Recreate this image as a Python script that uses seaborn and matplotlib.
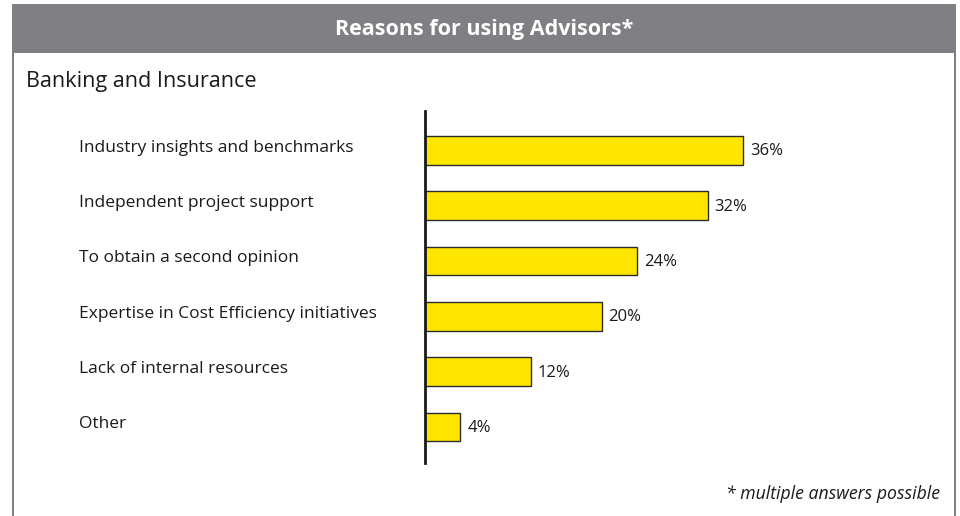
import matplotlib
matplotlib.use("Agg")
import matplotlib.pyplot as plt
import matplotlib.transforms as mtransforms
from matplotlib.patches import Rectangle
import seaborn as sns
import pandas as pd

# Survey data
categories = [
    "Industry insights and benchmarks",
    "Independent project support",
    "To obtain a second opinion",
    "Expertise in Cost Efficiency initiatives",
    "Lack of internal resources",
    "Other",
]
shares = [36, 32, 24, 20, 12, 4]
value_labels = ["36%", "32%", "24%", "20%", "12%", "4%"]

title = "Reasons for using Advisors*"
subtitle = "Banking and Insurance"
footnote = "* multiple answers possible"

sns.set_theme(style="white")
plt.rcParams["font.family"] = ["Open Sans", "DejaVu Sans"]

W, H = 960, 516
fig = plt.figure(figsize=(W / 100, H / 100), dpi=100)
fig.patch.set_facecolor("white")

# Frame: grey header band plus left/right rules
frame_color = "#807f83"
fig.add_artist(Rectangle((12 / W, (H - 53) / H), (956 - 12) / W, 49 / H,
                         transform=fig.transFigure, facecolor=frame_color,
                         edgecolor="none", zorder=0))
fig.add_artist(Rectangle((12 / W, 0), 2 / W, (H - 53) / H,
                         transform=fig.transFigure, facecolor=frame_color,
                         edgecolor="none"))
fig.add_artist(Rectangle((954 / W, 0), 2 / W, (H - 53) / H,
                         transform=fig.transFigure, facecolor=frame_color,
                         edgecolor="none"))

fig.text(484 / W, (H - 29) / H, title, ha="center", va="center",
         color="white", fontsize=15.5, fontweight="bold")
fig.text(26 / W, (H - 82) / H, subtitle, ha="left", va="center",
         color="#1a1a1a", fontsize=15.6)
fig.text(940 / W, (H - 494) / H, footnote, ha="right", va="center",
         color="#1a1a1a", fontsize=12.7, style="italic")

# Bar axes: x=0 at pixel 425, 8.83 px per percentage point
px_per_pct = 8.83
xmax = 50
ax = fig.add_axes([425 / W, (H - 463) / H, xmax * px_per_pct / W, 352 / H])
ax.set_facecolor("none")

df = pd.DataFrame({"reason": categories, "share": shares})
sns.barplot(data=df, x="share", y="reason", orient="h", color="#FFE600",
            saturation=1, edgecolor="#2b2b2b", linewidth=1.0, width=0.52,
            ax=ax)

ax.set_xlim(0, xmax)
ax.set_ylim(5.65, -0.714)
ax.set_xlabel("")
ax.set_ylabel("")
ax.set_xticks([])
ax.set_yticks([])
for side in ["top", "right", "bottom"]:
    ax.spines[side].set_visible(False)
ax.spines["left"].set_color("#1a1a1a")
ax.spines["left"].set_linewidth(2)

# Category labels on the left, values at the bar ends
label_tf = mtransforms.blended_transform_factory(fig.transFigure, ax.transData)
for i, (cat, val, txt) in enumerate(zip(categories, shares, value_labels)):
    ax.text(79 / W, i - 0.05, cat, transform=label_tf, ha="left", va="center",
            fontsize=12.5, color="#1a1a1a")
    ax.annotate(txt, xy=(val, i), xytext=(7, -1), textcoords="offset pixels",
                ha="left", va="center", fontsize=12, color="#1a1a1a")

fig.savefig("out.png", dpi=100)
